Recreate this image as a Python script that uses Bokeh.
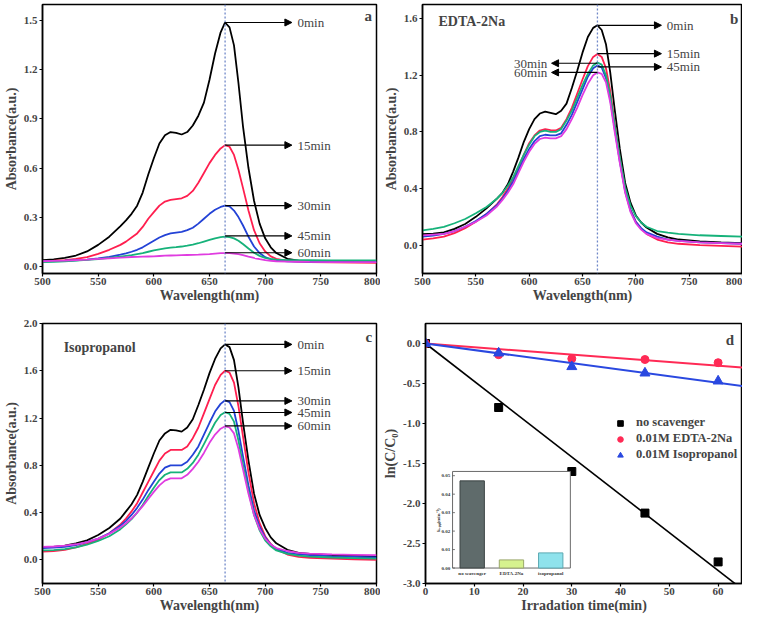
import numpy as np
from bokeh.plotting import figure
from bokeh.layouts import row, column
from bokeh.models import (Span, Arrow, NormalHead, Label, FixedTicker, PrintfTickFormatter,
                          Range1d, Legend, LegendItem)
from bokeh.embed import file_html
from bokeh.resources import INLINE
from bokeh.core.properties import value

# ---------------- data ----------------
wl = [500, 510, 520, 530, 540, 550, 560, 570,
      575, 580, 585, 590, 595, 600, 605, 610, 615, 620, 625, 630, 635, 640, 645, 650, 655, 660,
      664, 668, 672, 676,
      680, 685, 690, 695, 700, 705, 710,
      720, 730, 740, 760, 780, 800]
times = ["0min", "15min", "30min", "45min", "60min"]

# panel a (no scavenger)
a_0 = [0.037, 0.042, 0.05, 0.065, 0.09, 0.13, 0.18, 0.245,
       0.28, 0.32, 0.37, 0.45, 0.56, 0.66, 0.75, 0.80, 0.82, 0.815, 0.805, 0.82, 0.86, 0.92, 1.00, 1.14, 1.30, 1.43,
       1.49, 1.46, 1.35, 1.12,
       0.86, 0.60, 0.40, 0.26, 0.17, 0.115, 0.08,
       0.045, 0.033, 0.03, 0.028, 0.026, 0.025]
a_15 = [0.03, 0.033, 0.037, 0.045, 0.055, 0.075, 0.10, 0.13,
        0.15, 0.175, 0.20, 0.24, 0.29, 0.33, 0.37, 0.395, 0.405, 0.41, 0.415, 0.43, 0.46, 0.51, 0.57, 0.63, 0.68, 0.72,
        0.74, 0.73, 0.68, 0.59,
        0.48, 0.34, 0.22, 0.14, 0.09, 0.06, 0.045,
        0.032, 0.028, 0.025, 0.023, 0.022, 0.02]
a_30 = [0.03, 0.031, 0.033, 0.036, 0.04, 0.048, 0.057, 0.07,
        0.078, 0.088, 0.10, 0.115, 0.135, 0.155, 0.175, 0.19, 0.20, 0.205, 0.21, 0.22, 0.235, 0.26, 0.29, 0.32, 0.345, 0.362,
        0.37, 0.365, 0.34, 0.30,
        0.25, 0.18, 0.12, 0.08, 0.055, 0.042, 0.035,
        0.03, 0.028, 0.027, 0.026, 0.025, 0.025]
a_45 = [0.025, 0.027, 0.03, 0.034, 0.038, 0.043, 0.05, 0.058,
        0.063, 0.068, 0.074, 0.08, 0.088, 0.096, 0.103, 0.109, 0.113, 0.116, 0.12, 0.125, 0.132, 0.14, 0.15, 0.16, 0.17, 0.177,
        0.18, 0.178, 0.17, 0.155,
        0.135, 0.108, 0.082, 0.063, 0.051, 0.044, 0.04,
        0.037, 0.036, 0.036, 0.035, 0.035, 0.035]
a_60 = [0.03, 0.032, 0.034, 0.037, 0.04, 0.044, 0.048, 0.052,
        0.054, 0.056, 0.057, 0.058, 0.059, 0.06, 0.062, 0.064, 0.065, 0.066, 0.067, 0.068, 0.069, 0.07, 0.072, 0.074, 0.077, 0.079,
        0.08, 0.079, 0.077, 0.073,
        0.067, 0.058, 0.05, 0.043, 0.037, 0.033, 0.03,
        0.028, 0.027, 0.026, 0.025, 0.025, 0.025]

# panel b (EDTA-2Na)
b_0 = [0.078, 0.082, 0.09, 0.115, 0.15, 0.20, 0.26, 0.33,
       0.37, 0.43, 0.52, 0.62, 0.73, 0.82, 0.89, 0.93, 0.944, 0.935, 0.925, 0.95, 1.00, 1.11, 1.23, 1.36, 1.47, 1.535,
       1.553, 1.52, 1.42, 1.22,
       0.97, 0.68, 0.44, 0.30, 0.21, 0.16, 0.125,
       0.08, 0.055, 0.04, 0.027, 0.02, 0.015]
b_15 = [0.04, 0.048, 0.06, 0.085, 0.12, 0.165, 0.22, 0.29,
        0.34, 0.40, 0.47, 0.55, 0.64, 0.72, 0.775, 0.81, 0.82, 0.812, 0.81, 0.83, 0.89, 0.97, 1.07, 1.17, 1.265, 1.33,
        1.35, 1.33, 1.25, 1.09,
        0.87, 0.61, 0.39, 0.25, 0.165, 0.115, 0.08,
        0.04, 0.02, 0.01, 0.0, -0.005, -0.01]
b_30 = [0.06, 0.068, 0.08, 0.10, 0.13, 0.17, 0.22, 0.285,
        0.33, 0.385, 0.45, 0.53, 0.61, 0.68, 0.735, 0.77, 0.78, 0.775, 0.775, 0.79, 0.85, 0.92, 1.01, 1.10, 1.19, 1.25,
        1.27, 1.255, 1.18, 1.03,
        0.83, 0.59, 0.38, 0.245, 0.165, 0.12, 0.09,
        0.06, 0.04, 0.03, 0.02, 0.015, 0.01]
b_45 = [0.105, 0.115, 0.13, 0.155, 0.185, 0.225, 0.27, 0.33,
        0.37, 0.42, 0.48, 0.56, 0.64, 0.71, 0.77, 0.80, 0.81, 0.80, 0.80, 0.82, 0.88, 0.95, 1.04, 1.13, 1.21, 1.27,
        1.29, 1.275, 1.20, 1.06,
        0.86, 0.62, 0.41, 0.28, 0.205, 0.16, 0.13,
        0.10, 0.088, 0.08, 0.07, 0.065, 0.06]
b_60 = [0.07, 0.075, 0.08, 0.10, 0.13, 0.165, 0.21, 0.275,
        0.32, 0.37, 0.43, 0.51, 0.59, 0.66, 0.715, 0.75, 0.76, 0.755, 0.755, 0.77, 0.82, 0.89, 0.97, 1.06, 1.14, 1.20,
        1.22, 1.21, 1.15, 1.01,
        0.81, 0.58, 0.37, 0.235, 0.155, 0.11, 0.08,
        0.05, 0.04, 0.03, 0.02, 0.015, 0.01]

# panel c (Isopropanol)
c_0 = [0.108, 0.11, 0.12, 0.14, 0.165, 0.21, 0.27, 0.35,
       0.41, 0.47, 0.55, 0.66, 0.78, 0.90, 1.01, 1.07, 1.10, 1.095, 1.085, 1.12, 1.19, 1.31, 1.44, 1.58, 1.70, 1.79,
       1.823, 1.80, 1.69, 1.46,
       1.17, 0.84, 0.56, 0.38, 0.27, 0.19, 0.14,
       0.085, 0.06, 0.05, 0.04, 0.035, 0.03]
c_15 = [0.07, 0.075, 0.085, 0.105, 0.135, 0.17, 0.225, 0.30,
        0.35, 0.41, 0.48, 0.57, 0.66, 0.75, 0.84, 0.90, 0.93, 0.93, 0.93, 0.96, 1.03, 1.12, 1.24, 1.36, 1.48, 1.565,
        1.60, 1.585, 1.50, 1.30,
        1.05, 0.74, 0.48, 0.31, 0.20, 0.135, 0.09,
        0.045, 0.025, 0.018, 0.01, 0.005, 0.0]
c_30 = [0.10, 0.103, 0.11, 0.125, 0.15, 0.18, 0.225, 0.29,
        0.33, 0.38, 0.44, 0.51, 0.59, 0.66, 0.73, 0.78, 0.80, 0.80, 0.80, 0.83, 0.89, 0.96, 1.06, 1.16, 1.255, 1.32,
        1.35, 1.335, 1.26, 1.09,
        0.88, 0.63, 0.42, 0.28, 0.19, 0.13, 0.095,
        0.06, 0.047, 0.04, 0.03, 0.025, 0.02]
c_45 = [0.08, 0.083, 0.09, 0.105, 0.128, 0.16, 0.20, 0.26,
        0.30, 0.345, 0.40, 0.465, 0.54, 0.61, 0.675, 0.72, 0.74, 0.74, 0.74, 0.77, 0.82, 0.89, 0.98, 1.07, 1.16, 1.225,
        1.25, 1.235, 1.17, 1.01,
        0.81, 0.58, 0.38, 0.25, 0.165, 0.115, 0.08,
        0.05, 0.035, 0.028, 0.02, 0.015, 0.01]
c_60 = [0.11, 0.113, 0.12, 0.132, 0.15, 0.18, 0.22, 0.275,
        0.31, 0.35, 0.40, 0.455, 0.515, 0.575, 0.63, 0.67, 0.69, 0.69, 0.69, 0.72, 0.77, 0.83, 0.905, 0.99, 1.06, 1.11,
        1.13, 1.12, 1.07, 0.94,
        0.77, 0.56, 0.38, 0.26, 0.18, 0.13, 0.10,
        0.075, 0.06, 0.052, 0.046, 0.043, 0.04]

# arrow heights (label positions) per panel
a_arrow_y = [1.49, 0.74, 0.37, 0.185, 0.082]
b_arrow_y = [1.553, 1.353, 1.285, 1.259, 1.22]
c_arrow_y = [1.823, 1.60, 1.345, 1.247, 1.133]

# panel d (kinetics)
t_min = [0, 15, 30, 45, 60]
ln_none = [0.0, -0.80, -1.60, -2.12, -2.73]
ln_edta = [0.0, -0.14, -0.19, -0.20, -0.24]
ln_iso = [0.0, -0.12, -0.29, -0.37, -0.47]
series_names = ["no scavenger", "0.01M EDTA-2Na", "0.01M Isopropanol"]

# inset bars
inset_cats = ["no scavenger", "EDTA-2Na", "isopropanol"]
inset_k = [0.0472, 0.0044, 0.0082]
inset_ticks = [0.00, 0.01, 0.02, 0.03, 0.04, 0.05]

wl_ticks = [500, 550, 600, 650, 700, 750, 800]
a_yticks = [0.0, 0.3, 0.6, 0.9, 1.2, 1.5]
b_yticks = [0.0, 0.4, 0.8, 1.2, 1.6]
c_yticks = [0.0, 0.4, 0.8, 1.2, 1.6, 2.0]
d_xticks = [0, 10, 20, 30, 40, 50, 60]
d_yticks = [0.0, -0.5, -1.0, -1.5, -2.0, -2.5, -3.0]

# ---------------- style ----------------
FONT = "Liberation Serif"
COLORS = ["#000000", "#ff1f4f", "#2342d6", "#16b27a", "#e03ce0"]
PEAK_WL = 664


def style(p, xticks, yticks, yfmt, xfmt="%d"):
    p.outline_line_color = "black"
    p.outline_line_width = 1.5
    p.outline_line_alpha = 1.0
    p.xgrid.visible = False
    p.ygrid.visible = False
    p.background_fill_color = "white"
    for ax in (p.xaxis[0], p.yaxis[0]):
        ax.axis_line_width = 1.5
        ax.major_tick_line_width = 1.2
        ax.major_tick_out = 3
        ax.major_tick_in = 0
        ax.minor_tick_line_color = None
        ax.major_label_text_font = FONT
        ax.major_label_text_font_style = "bold"
        ax.major_label_text_font_size = "11px"
        ax.axis_label_text_font = FONT
        ax.axis_label_text_font_style = "bold"
        ax.axis_label_text_font_size = "14px"
        ax.major_label_standoff = 2
        ax.axis_label_standoff = 2
    p.xaxis.major_label_standoff = 1
    p.xaxis.axis_label_standoff = 0
    p.xaxis.ticker = FixedTicker(ticks=xticks)
    p.yaxis.ticker = FixedTicker(ticks=yticks)
    p.yaxis.formatter = PrintfTickFormatter(format=yfmt)
    p.xaxis.formatter = PrintfTickFormatter(format=xfmt)


def spectra_panel(width, height, yr, yticks, series, arrow_y, arrow_dirs, letter, letter_y,
                  title=None, title_xy=None, borders=(36, 12, 6, 30)):
    p = figure(width=width, height=height, x_range=Range1d(500, 800), y_range=Range1d(*yr),
               output_backend="svg", toolbar_location=None,
               min_border_left=borders[0], min_border_right=borders[1],
               min_border_top=borders[2], min_border_bottom=borders[3])
    p.xaxis.axis_label = "Wavelength(nm)"
    p.yaxis.axis_label = "Absorbance(a.u.)"
    style(p, wl_ticks, yticks, "%.1f")
    p.add_layout(Span(location=PEAK_WL, dimension="height", line_color="#7088c8",
                      line_dash="2 2", line_width=1.3))
    for ys, col in zip(series, COLORS):
        p.line(wl, ys, line_color=col, line_width=1.8)
    for yv, txt, d in zip(arrow_y, times, arrow_dirs):
        if d > 0:
            x_end, x_txt, align = 724, 729, "left"
        else:
            x_end, x_txt, align = 621, 617, "right"
        p.add_layout(Arrow(end=NormalHead(size=7, fill_color="black", line_color="black"),
                           x_start=PEAK_WL, y_start=yv, x_end=x_end, y_end=yv,
                           line_color="black", line_width=1.2))
        p.add_layout(Label(x=x_txt, y=yv, text=txt, text_align=align, text_baseline="middle",
                           text_font=FONT, text_font_size="13px"))
    p.add_layout(Label(x=796, y=letter_y, text=letter, text_align="right", text_baseline="middle",
                       text_font=FONT, text_font_style="bold", text_font_size="15px"))
    if title:
        p.add_layout(Label(x=title_xy[0], y=title_xy[1], text=title, text_align="left",
                           text_baseline="middle", text_font=FONT, text_font_style="bold",
                           text_font_size="14px"))
    return p


pa = spectra_panel(380, 305, (-0.045, 1.6), a_yticks, [a_0, a_15, a_30, a_45, a_60], a_arrow_y,
                   [1, 1, 1, 1, 1], "a", 1.53, borders=(36, 4, 4, 28))
pb = spectra_panel(362, 305, (-0.2, 1.7), b_yticks, [b_0, b_15, b_30, b_45, b_60], b_arrow_y,
                   [1, 1, -1, 1, -1], "b", 1.595, title="EDTA-2Na", title_xy=(515, 1.58),
                   borders=(36, 0, 4, 28))
pc = spectra_panel(380, 310, (-0.2, 2.0), c_yticks, [c_0, c_15, c_30, c_45, c_60], c_arrow_y,
                   [1, 1, 1, 1, 1], "c", 1.89, title="Isopropanol", title_xy=(519, 1.80),
                   borders=(36, 4, 12, 28))

# ---------------- panel d ----------------
X_END = 65
pd = figure(width=362, height=310, x_range=Range1d(0, X_END), y_range=Range1d(-3.0, 0.25),
            output_backend="svg", toolbar_location=None,
            min_border_left=40, min_border_right=0, min_border_top=18, min_border_bottom=28)
pd.xaxis.axis_label = "Irradation time(min)"
pd.yaxis.axis_label = "ln(C/C\u2080)"
style(pd, d_xticks, d_yticks, "%.1f")

t_arr = np.array(t_min, dtype=float)
fit_x = np.array([0.0, X_END])
fit_cols = ["#000000", "#ff2a55", "#2a48e0"]
markers = ["square", "circle", "triangle"]
sizes = [8, 8, 10]
items = []
for ys, col, mk, sz, nm in zip([ln_none, ln_edta, ln_iso], fit_cols, markers, sizes, series_names):
    y_arr = np.array(ys)
    k = np.sum(t_arr * y_arr) / np.sum(t_arr * t_arr)
    pd.line(fit_x, k * fit_x, line_color=col, line_width=1.6 if col == "#000000" else 2.0)
    r = pd.scatter(t_min, ys, marker=mk, size=sz, fill_color=col, line_color=col)
    items.append(LegendItem(label=nm, renderers=[r]))

legend = Legend(items=items, location=(188, 121), border_line_color=None,
                background_fill_alpha=0, label_text_font=FONT, label_text_font_style="bold",
                label_text_font_size="12.5px", glyph_width=14, glyph_height=14, label_standoff=9,
                spacing=1, padding=0, margin=0, label_height=14)
pd.add_layout(legend)
pd.add_layout(Label(x=63.3, y=0.05, text="d", text_align="right", text_baseline="middle",
                    text_font=FONT, text_font_style="bold", text_font_size="15px"))

# inset (drawn through its own extra ranges)
pd.extra_x_ranges = {"ix": Range1d(-0.689, 7.384)}
pd.extra_y_ranges = {"iy": Range1d(-0.00837, 0.1324)}
IX = dict(x_range_name="ix", y_range_name="iy")
INSET_TOP = 0.0523
pd.quad(left=[0], right=[len(inset_cats)], bottom=[0], top=[INSET_TOP], fill_color="white",
        line_color="#6a6a6a", line_width=1, **IX)
cx = np.arange(len(inset_cats)) + 0.5
pd.vbar(x=cx, top=inset_k, bottom=0, width=0.62,
        fill_color=["#5f6b6b", "#d6f28e", "#8fe2ec"], line_color=["#3c4444", "#9aa86a", "#5aa8b2"],
        line_width=1, **IX)
pd.segment(x0=[0] * len(inset_ticks), y0=inset_ticks, x1=[0.06] * len(inset_ticks), y1=inset_ticks,
           line_color="#555555", line_width=0.8, **IX)
pd.text(x=[-0.06] * len(inset_ticks), y=inset_ticks, text=["%.2f" % v for v in inset_ticks],
        text_align="right", text_baseline="middle", text_font=value(FONT), text_font_style="bold",
        text_font_size="5px", text_color="#333333", **IX)
pd.text(x=cx, y=[-0.0015] * len(inset_cats), text=inset_cats, text_align="center", text_baseline="top",
        text_font=value(FONT), text_font_style="bold", text_font_size="5px", text_color="#333333", **IX)
pd.text(x=[-0.36], y=[0.026], text=["k\u2090\u209a\u209a(min\u207b\u00b9)"], angle=np.pi / 2,
        text_align="center", text_baseline="middle", text_font=value(FONT), text_font_style="bold",
        text_font_size="5px", text_color="#333333", **IX)

layout = column(row(pa, pb), row(pc, pd))
open("out.html", "w").write(file_html(layout, INLINE))
